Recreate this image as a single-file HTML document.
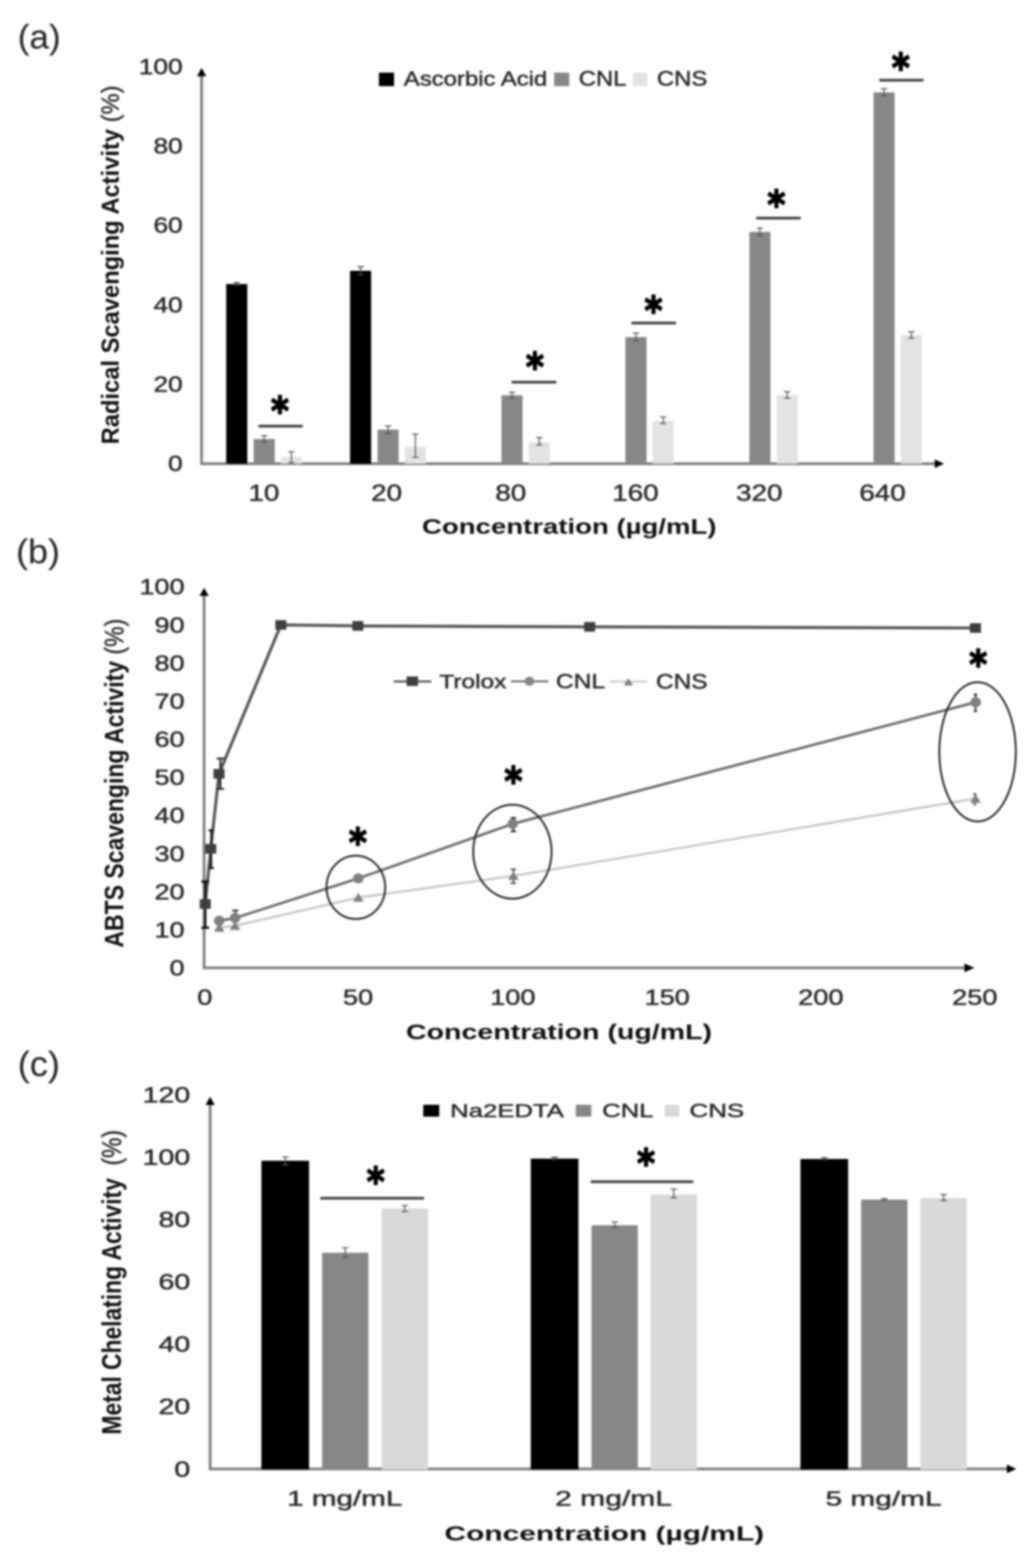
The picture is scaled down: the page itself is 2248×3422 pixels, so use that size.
<!DOCTYPE html>
<html><head><meta charset="utf-8"><title>Antioxidant activity charts</title>
<style>
html,body{margin:0;padding:0;background:#fff;}
svg{display:block;filter:blur(2.0px);}
text{font-family:"Liberation Sans",Arial,sans-serif;white-space:pre;}
</style></head>
<body>
<svg xmlns="http://www.w3.org/2000/svg" width="2248" height="3422" viewBox="0 0 2248 3422">
<rect width="2248" height="3422" fill="#fefefe"/>
<text transform="translate(38.87 106.11) scale(1.0284 1)" font-size="74.42" fill="#2b2b2b" stroke="#2b2b2b" stroke-width="0.30" stroke-linejoin="round">(a)</text>
<line x1="440.00" y1="1014.50" x2="440.00" y2="162.00" stroke="#7e7e7e" stroke-width="6.00" stroke-linecap="butt"/>
<polygon points="440.00,148.00 430.00,166.50 450.00,166.50" fill="#000"/>
<line x1="437.50" y1="1012.00" x2="2044.00" y2="1012.00" stroke="#7e7e7e" stroke-width="6.00" stroke-linecap="butt"/>
<polygon points="2060.50,1012.00 2040.00,1002.50 2040.00,1021.50" fill="#000"/>
<text transform="translate(366.77 1028.13) scale(1.2168 1)" font-size="47.21" fill="#2b2b2b" stroke="#2b2b2b" stroke-width="1.00" stroke-linejoin="round">0</text>
<text transform="translate(334.89 854.89) scale(1.2168 1)" font-size="47.21" fill="#2b2b2b" stroke="#2b2b2b" stroke-width="1.00" stroke-linejoin="round">20</text>
<text transform="translate(334.89 681.65) scale(1.2168 1)" font-size="47.21" fill="#2b2b2b" stroke="#2b2b2b" stroke-width="1.00" stroke-linejoin="round">40</text>
<text transform="translate(334.89 508.41) scale(1.2168 1)" font-size="47.21" fill="#2b2b2b" stroke="#2b2b2b" stroke-width="1.00" stroke-linejoin="round">60</text>
<text transform="translate(334.89 335.17) scale(1.2168 1)" font-size="47.21" fill="#2b2b2b" stroke="#2b2b2b" stroke-width="1.00" stroke-linejoin="round">80</text>
<text transform="translate(302.87 161.93) scale(1.2168 1)" font-size="47.21" fill="#2b2b2b" stroke="#2b2b2b" stroke-width="1.00" stroke-linejoin="round">100</text>
<text transform="translate(542.17 1092.70) scale(1.2168 1)" font-size="49.89" fill="#2b2b2b" stroke="#2b2b2b" stroke-width="1.00" stroke-linejoin="round">10</text>
<text transform="translate(809.93 1092.70) scale(1.2168 1)" font-size="49.89" fill="#2b2b2b" stroke="#2b2b2b" stroke-width="1.00" stroke-linejoin="round">20</text>
<text transform="translate(1080.95 1092.70) scale(1.2168 1)" font-size="49.89" fill="#2b2b2b" stroke="#2b2b2b" stroke-width="1.00" stroke-linejoin="round">80</text>
<text transform="translate(1336.24 1092.70) scale(1.2168 1)" font-size="49.89" fill="#2b2b2b" stroke="#2b2b2b" stroke-width="1.00" stroke-linejoin="round">160</text>
<text transform="translate(1606.38 1092.70) scale(1.2168 1)" font-size="49.89" fill="#2b2b2b" stroke="#2b2b2b" stroke-width="1.00" stroke-linejoin="round">320</text>
<text transform="translate(1875.60 1092.70) scale(1.2168 1)" font-size="49.89" fill="#2b2b2b" stroke="#2b2b2b" stroke-width="1.00" stroke-linejoin="round">640</text>
<rect x="493.70" y="620.00" width="46.00" height="392.00" fill="#000"/>
<rect x="553.70" y="958.00" width="46.00" height="54.00" fill="#878787"/>
<rect x="613.20" y="997.00" width="46.00" height="15.00" fill="#e3e3e3"/>
<rect x="764.00" y="591.00" width="46.00" height="421.00" fill="#000"/>
<rect x="824.00" y="937.60" width="46.00" height="74.40" fill="#878787"/>
<rect x="883.50" y="975.00" width="46.00" height="37.00" fill="#e3e3e3"/>
<rect x="1094.50" y="862.60" width="46.00" height="149.40" fill="#878787"/>
<rect x="1154.00" y="965.00" width="46.00" height="47.00" fill="#e3e3e3"/>
<rect x="1365.00" y="735.60" width="46.00" height="276.40" fill="#878787"/>
<rect x="1424.50" y="918.60" width="46.00" height="93.40" fill="#e3e3e3"/>
<rect x="1635.50" y="506.20" width="46.00" height="505.80" fill="#878787"/>
<rect x="1695.00" y="862.30" width="46.00" height="149.70" fill="#e3e3e3"/>
<rect x="1906.50" y="201.60" width="46.00" height="810.40" fill="#878787"/>
<rect x="1966.00" y="731.40" width="46.00" height="280.60" fill="#e3e3e3"/>
<line x1="516.70" y1="617.00" x2="516.70" y2="622.00" stroke="#333" stroke-width="2.50" stroke-linecap="butt"/>
<line x1="509.70" y1="617.00" x2="523.70" y2="617.00" stroke="#333" stroke-width="2.50" stroke-linecap="butt"/>
<line x1="509.70" y1="622.00" x2="523.70" y2="622.00" stroke="#333" stroke-width="2.50" stroke-linecap="butt"/>
<line x1="576.70" y1="951.00" x2="576.70" y2="965.00" stroke="#555" stroke-width="2.50" stroke-linecap="butt"/>
<line x1="569.70" y1="951.00" x2="583.70" y2="951.00" stroke="#555" stroke-width="2.50" stroke-linecap="butt"/>
<line x1="569.70" y1="965.00" x2="583.70" y2="965.00" stroke="#555" stroke-width="2.50" stroke-linecap="butt"/>
<line x1="636.00" y1="986.00" x2="636.00" y2="1010.00" stroke="#555" stroke-width="2.50" stroke-linecap="butt"/>
<line x1="629.00" y1="986.00" x2="643.00" y2="986.00" stroke="#555" stroke-width="2.50" stroke-linecap="butt"/>
<line x1="629.00" y1="1010.00" x2="643.00" y2="1010.00" stroke="#555" stroke-width="2.50" stroke-linecap="butt"/>
<line x1="787.00" y1="582.00" x2="787.00" y2="600.00" stroke="#444" stroke-width="2.50" stroke-linecap="butt"/>
<line x1="780.00" y1="582.00" x2="794.00" y2="582.00" stroke="#444" stroke-width="2.50" stroke-linecap="butt"/>
<line x1="780.00" y1="600.00" x2="794.00" y2="600.00" stroke="#444" stroke-width="2.50" stroke-linecap="butt"/>
<line x1="847.00" y1="929.50" x2="847.00" y2="946.00" stroke="#555" stroke-width="2.50" stroke-linecap="butt"/>
<line x1="840.00" y1="929.50" x2="854.00" y2="929.50" stroke="#555" stroke-width="2.50" stroke-linecap="butt"/>
<line x1="840.00" y1="946.00" x2="854.00" y2="946.00" stroke="#555" stroke-width="2.50" stroke-linecap="butt"/>
<line x1="906.50" y1="947.50" x2="906.50" y2="998.00" stroke="#555" stroke-width="2.50" stroke-linecap="butt"/>
<line x1="899.50" y1="947.50" x2="913.50" y2="947.50" stroke="#555" stroke-width="2.50" stroke-linecap="butt"/>
<line x1="899.50" y1="998.00" x2="913.50" y2="998.00" stroke="#555" stroke-width="2.50" stroke-linecap="butt"/>
<line x1="1117.50" y1="856.00" x2="1117.50" y2="869.00" stroke="#555" stroke-width="2.50" stroke-linecap="butt"/>
<line x1="1110.50" y1="856.00" x2="1124.50" y2="856.00" stroke="#555" stroke-width="2.50" stroke-linecap="butt"/>
<line x1="1110.50" y1="869.00" x2="1124.50" y2="869.00" stroke="#555" stroke-width="2.50" stroke-linecap="butt"/>
<line x1="1177.00" y1="955.00" x2="1177.00" y2="971.00" stroke="#555" stroke-width="2.50" stroke-linecap="butt"/>
<line x1="1170.00" y1="955.00" x2="1184.00" y2="955.00" stroke="#555" stroke-width="2.50" stroke-linecap="butt"/>
<line x1="1170.00" y1="971.00" x2="1184.00" y2="971.00" stroke="#555" stroke-width="2.50" stroke-linecap="butt"/>
<line x1="1388.00" y1="727.00" x2="1388.00" y2="744.00" stroke="#555" stroke-width="2.50" stroke-linecap="butt"/>
<line x1="1381.00" y1="727.00" x2="1395.00" y2="727.00" stroke="#555" stroke-width="2.50" stroke-linecap="butt"/>
<line x1="1381.00" y1="744.00" x2="1395.00" y2="744.00" stroke="#555" stroke-width="2.50" stroke-linecap="butt"/>
<line x1="1447.50" y1="910.00" x2="1447.50" y2="924.00" stroke="#555" stroke-width="2.50" stroke-linecap="butt"/>
<line x1="1440.50" y1="910.00" x2="1454.50" y2="910.00" stroke="#555" stroke-width="2.50" stroke-linecap="butt"/>
<line x1="1440.50" y1="924.00" x2="1454.50" y2="924.00" stroke="#555" stroke-width="2.50" stroke-linecap="butt"/>
<line x1="1658.50" y1="498.00" x2="1658.50" y2="514.00" stroke="#555" stroke-width="2.50" stroke-linecap="butt"/>
<line x1="1651.50" y1="498.00" x2="1665.50" y2="498.00" stroke="#555" stroke-width="2.50" stroke-linecap="butt"/>
<line x1="1651.50" y1="514.00" x2="1665.50" y2="514.00" stroke="#555" stroke-width="2.50" stroke-linecap="butt"/>
<line x1="1718.00" y1="855.00" x2="1718.00" y2="869.00" stroke="#555" stroke-width="2.50" stroke-linecap="butt"/>
<line x1="1711.00" y1="855.00" x2="1725.00" y2="855.00" stroke="#555" stroke-width="2.50" stroke-linecap="butt"/>
<line x1="1711.00" y1="869.00" x2="1725.00" y2="869.00" stroke="#555" stroke-width="2.50" stroke-linecap="butt"/>
<line x1="1929.50" y1="193.50" x2="1929.50" y2="209.00" stroke="#555" stroke-width="2.50" stroke-linecap="butt"/>
<line x1="1922.50" y1="193.50" x2="1936.50" y2="193.50" stroke="#555" stroke-width="2.50" stroke-linecap="butt"/>
<line x1="1922.50" y1="209.00" x2="1936.50" y2="209.00" stroke="#555" stroke-width="2.50" stroke-linecap="butt"/>
<line x1="1989.00" y1="724.00" x2="1989.00" y2="738.00" stroke="#555" stroke-width="2.50" stroke-linecap="butt"/>
<line x1="1982.00" y1="724.00" x2="1996.00" y2="724.00" stroke="#555" stroke-width="2.50" stroke-linecap="butt"/>
<line x1="1982.00" y1="738.00" x2="1996.00" y2="738.00" stroke="#555" stroke-width="2.50" stroke-linecap="butt"/>
<line x1="566.60" y1="930.00" x2="658.00" y2="930.00" stroke="#454545" stroke-width="6.00" stroke-linecap="round"/>
<text transform="translate(611.00 927.24) scale(0.89 1)" style="font-family:'DejaVu Sans',sans-serif" font-weight="bold" font-size="84.78" text-anchor="middle" stroke="#000" stroke-width="3.16" stroke-linejoin="round">*</text>
<line x1="1119.00" y1="834.00" x2="1211.80" y2="834.00" stroke="#454545" stroke-width="6.00" stroke-linecap="round"/>
<text transform="translate(1167.40 831.24) scale(0.89 1)" style="font-family:'DejaVu Sans',sans-serif" font-weight="bold" font-size="84.78" text-anchor="middle" stroke="#000" stroke-width="3.16" stroke-linejoin="round">*</text>
<line x1="1380.60" y1="705.00" x2="1473.00" y2="705.00" stroke="#454545" stroke-width="6.00" stroke-linecap="round"/>
<text transform="translate(1426.30 708.24) scale(0.89 1)" style="font-family:'DejaVu Sans',sans-serif" font-weight="bold" font-size="84.78" text-anchor="middle" stroke="#000" stroke-width="3.16" stroke-linejoin="round">*</text>
<line x1="1653.00" y1="476.00" x2="1745.00" y2="476.00" stroke="#454545" stroke-width="6.00" stroke-linecap="round"/>
<text transform="translate(1694.40 476.54) scale(0.89 1)" style="font-family:'DejaVu Sans',sans-serif" font-weight="bold" font-size="84.78" text-anchor="middle" stroke="#000" stroke-width="3.16" stroke-linejoin="round">*</text>
<line x1="1921.50" y1="175.00" x2="2013.00" y2="175.00" stroke="#454545" stroke-width="6.00" stroke-linecap="round"/>
<text transform="translate(1966.00 178.24) scale(0.89 1)" style="font-family:'DejaVu Sans',sans-serif" font-weight="bold" font-size="84.78" text-anchor="middle" stroke="#000" stroke-width="3.16" stroke-linejoin="round">*</text>
<rect x="827.00" y="158.50" width="33.00" height="29.50" fill="#000"/>
<text transform="translate(881.37 187.26) scale(1.1833 1)" font-size="44.08" fill="#2b2b2b" stroke="#2b2b2b" stroke-width="1.00" stroke-linejoin="round">Ascorbic Acid</text>
<rect x="1209.50" y="158.50" width="32.80" height="29.50" fill="#878787"/>
<text transform="translate(1263.31 187.34) scale(1.1262 1)" font-size="46.08" fill="#2b2b2b" stroke="#2b2b2b" stroke-width="1.00" stroke-linejoin="round">CNL</text>
<rect x="1381.70" y="158.50" width="31.30" height="29.50" fill="#e3e3e3"/>
<text transform="translate(1433.69 186.84) scale(1.1309 1)" font-size="46.08" fill="#2b2b2b" stroke="#2b2b2b" stroke-width="1.00" stroke-linejoin="round">CNS</text>
<text transform="translate(921.09 1164.83) scale(1.2817 1)" font-size="46.93" font-weight="bold" fill="#111">Concentration (µg/mL)</text>
<text transform="translate(259.41 969.69) rotate(-90) scale(1 1.0265)" font-size="51.75"><tspan font-weight="bold" fill="#111">Radical Scavenging Activity </tspan><tspan font-weight="normal" fill="#2b2b2b" stroke="#2b2b2b" stroke-width="0.80" stroke-linejoin="round">(%)</tspan></text>
<text transform="translate(34.94 1228.72) scale(1.0505 1)" font-size="74.85" fill="#2b2b2b" stroke="#2b2b2b" stroke-width="0.30" stroke-linejoin="round">(b)</text>
<line x1="445.40" y1="2114.80" x2="445.40" y2="1296.00" stroke="#7e7e7e" stroke-width="6.00" stroke-linecap="butt"/>
<polygon points="445.40,1283.00 435.40,1300.50 455.40,1300.50" fill="#000"/>
<line x1="442.90" y1="2112.30" x2="2109.00" y2="2112.30" stroke="#7e7e7e" stroke-width="6.00" stroke-linecap="butt"/>
<polygon points="2126.50,2112.30 2105.00,2102.80 2105.00,2121.80" fill="#000"/>
<text transform="translate(369.91 2129.22) scale(1.2189 1)" font-size="48.34" fill="#2b2b2b" stroke="#2b2b2b" stroke-width="1.00" stroke-linejoin="round">0</text>
<text transform="translate(337.21 2046.03) scale(1.2189 1)" font-size="48.34" fill="#2b2b2b" stroke="#2b2b2b" stroke-width="1.00" stroke-linejoin="round">10</text>
<text transform="translate(337.21 1962.84) scale(1.2189 1)" font-size="48.34" fill="#2b2b2b" stroke="#2b2b2b" stroke-width="1.00" stroke-linejoin="round">20</text>
<text transform="translate(337.21 1879.65) scale(1.2189 1)" font-size="48.34" fill="#2b2b2b" stroke="#2b2b2b" stroke-width="1.00" stroke-linejoin="round">30</text>
<text transform="translate(337.21 1796.46) scale(1.2189 1)" font-size="48.34" fill="#2b2b2b" stroke="#2b2b2b" stroke-width="1.00" stroke-linejoin="round">40</text>
<text transform="translate(337.21 1713.27) scale(1.2189 1)" font-size="48.34" fill="#2b2b2b" stroke="#2b2b2b" stroke-width="1.00" stroke-linejoin="round">50</text>
<text transform="translate(337.21 1630.08) scale(1.2189 1)" font-size="48.34" fill="#2b2b2b" stroke="#2b2b2b" stroke-width="1.00" stroke-linejoin="round">60</text>
<text transform="translate(337.21 1546.89) scale(1.2189 1)" font-size="48.34" fill="#2b2b2b" stroke="#2b2b2b" stroke-width="1.00" stroke-linejoin="round">70</text>
<text transform="translate(337.21 1463.70) scale(1.2189 1)" font-size="48.34" fill="#2b2b2b" stroke="#2b2b2b" stroke-width="1.00" stroke-linejoin="round">80</text>
<text transform="translate(337.21 1380.51) scale(1.2189 1)" font-size="48.34" fill="#2b2b2b" stroke="#2b2b2b" stroke-width="1.00" stroke-linejoin="round">90</text>
<text transform="translate(304.36 1297.32) scale(1.2189 1)" font-size="48.34" fill="#2b2b2b" stroke="#2b2b2b" stroke-width="1.00" stroke-linejoin="round">100</text>
<text transform="translate(430.38 2193.01) scale(1.2189 1)" font-size="48.62" fill="#2b2b2b" stroke="#2b2b2b" stroke-width="1.00" stroke-linejoin="round">0</text>
<text transform="translate(748.43 2193.01) scale(1.2189 1)" font-size="48.62" fill="#2b2b2b" stroke="#2b2b2b" stroke-width="1.00" stroke-linejoin="round">50</text>
<text transform="translate(1069.78 2193.01) scale(1.2189 1)" font-size="48.62" fill="#2b2b2b" stroke="#2b2b2b" stroke-width="1.00" stroke-linejoin="round">100</text>
<text transform="translate(1406.68 2193.01) scale(1.2189 1)" font-size="48.62" fill="#2b2b2b" stroke="#2b2b2b" stroke-width="1.00" stroke-linejoin="round">150</text>
<text transform="translate(1742.02 2193.01) scale(1.2189 1)" font-size="48.62" fill="#2b2b2b" stroke="#2b2b2b" stroke-width="1.00" stroke-linejoin="round">200</text>
<text transform="translate(2078.12 2193.01) scale(1.2189 1)" font-size="48.62" fill="#2b2b2b" stroke="#2b2b2b" stroke-width="1.00" stroke-linejoin="round">250</text>
<polyline points="478.5,2024.5 513.0,2020.5 782.0,1959.0 1120.5,1911.5 2129.0,1743.0" fill="none" stroke="#c8c8c8" stroke-width="5" stroke-linejoin="round"/>
<polyline points="478.5,2009.5 513.0,2003.5 782.0,1917.0 1119.0,1798.0 2129.5,1532.5" fill="none" stroke="#686868" stroke-width="5.5" stroke-linejoin="round"/>
<polyline points="448.0,1972.8 460.0,1852.4 478.0,1688.7 613.0,1363.8 781.0,1366.0 1287.0,1368.0 2129.0,1370.6" fill="none" stroke="#555555" stroke-width="6.5" stroke-linejoin="round"/>
<line x1="448.00" y1="1924.00" x2="448.00" y2="2024.60" stroke="#111" stroke-width="5.00" stroke-linecap="butt"/>
<line x1="439.50" y1="1924.00" x2="456.50" y2="1924.00" stroke="#111" stroke-width="5.00" stroke-linecap="butt"/>
<line x1="439.50" y1="2024.60" x2="456.50" y2="2024.60" stroke="#111" stroke-width="5.00" stroke-linecap="butt"/>
<line x1="461.00" y1="1812.00" x2="461.00" y2="1894.60" stroke="#111" stroke-width="4.00" stroke-linecap="butt"/>
<line x1="455.00" y1="1812.00" x2="467.00" y2="1812.00" stroke="#111" stroke-width="4.00" stroke-linecap="butt"/>
<line x1="455.00" y1="1894.60" x2="467.00" y2="1894.60" stroke="#111" stroke-width="4.00" stroke-linecap="butt"/>
<line x1="481.00" y1="1655.40" x2="481.00" y2="1721.60" stroke="#222" stroke-width="4.00" stroke-linecap="butt"/>
<line x1="473.00" y1="1655.40" x2="489.00" y2="1655.40" stroke="#222" stroke-width="4.00" stroke-linecap="butt"/>
<line x1="473.00" y1="1721.60" x2="489.00" y2="1721.60" stroke="#222" stroke-width="4.00" stroke-linecap="butt"/>
<line x1="513.60" y1="1987.00" x2="513.60" y2="2008.00" stroke="#333" stroke-width="3.50" stroke-linecap="butt"/>
<line x1="506.60" y1="1987.00" x2="520.60" y2="1987.00" stroke="#333" stroke-width="3.50" stroke-linecap="butt"/>
<line x1="506.60" y1="2008.00" x2="520.60" y2="2008.00" stroke="#333" stroke-width="3.50" stroke-linecap="butt"/>
<line x1="1120.50" y1="1785.00" x2="1120.50" y2="1814.50" stroke="#222" stroke-width="3.50" stroke-linecap="butt"/>
<line x1="1114.50" y1="1785.00" x2="1126.50" y2="1785.00" stroke="#222" stroke-width="3.50" stroke-linecap="butt"/>
<line x1="1114.50" y1="1814.50" x2="1126.50" y2="1814.50" stroke="#222" stroke-width="3.50" stroke-linecap="butt"/>
<line x1="1120.50" y1="1897.00" x2="1120.50" y2="1927.50" stroke="#555" stroke-width="3.50" stroke-linecap="butt"/>
<line x1="1114.50" y1="1897.00" x2="1126.50" y2="1897.00" stroke="#555" stroke-width="3.50" stroke-linecap="butt"/>
<line x1="1114.50" y1="1927.50" x2="1126.50" y2="1927.50" stroke="#555" stroke-width="3.50" stroke-linecap="butt"/>
<line x1="2129.00" y1="1515.50" x2="2129.00" y2="1552.00" stroke="#333" stroke-width="3.50" stroke-linecap="butt"/>
<line x1="2125.00" y1="1515.50" x2="2133.00" y2="1515.50" stroke="#333" stroke-width="3.50" stroke-linecap="butt"/>
<line x1="2125.00" y1="1552.00" x2="2133.00" y2="1552.00" stroke="#333" stroke-width="3.50" stroke-linecap="butt"/>
<line x1="2127.50" y1="1732.50" x2="2127.50" y2="1755.50" stroke="#555" stroke-width="3.00" stroke-linecap="butt"/>
<line x1="2124.00" y1="1732.50" x2="2131.00" y2="1732.50" stroke="#555" stroke-width="3.00" stroke-linecap="butt"/>
<line x1="2124.00" y1="1755.50" x2="2131.00" y2="1755.50" stroke="#555" stroke-width="3.00" stroke-linecap="butt"/>
<rect x="436.00" y="1962.30" width="24.00" height="21.00" fill="#3f3f3f"/>
<rect x="448.00" y="1841.90" width="24.00" height="21.00" fill="#3f3f3f"/>
<rect x="466.00" y="1678.20" width="24.00" height="21.00" fill="#3f3f3f"/>
<rect x="601.00" y="1353.30" width="24.00" height="21.00" fill="#3f3f3f"/>
<rect x="769.00" y="1355.50" width="24.00" height="21.00" fill="#3f3f3f"/>
<rect x="1275.00" y="1357.50" width="24.00" height="21.00" fill="#3f3f3f"/>
<rect x="2117.00" y="1360.10" width="24.00" height="21.00" fill="#3f3f3f"/>
<polygon points="478.50,2014.00 467.00,2033.50 490.00,2033.50" fill="#7f7f7f"/>
<polygon points="513.00,2010.00 501.50,2029.50 524.50,2029.50" fill="#7f7f7f"/>
<polygon points="782.00,1948.50 770.50,1968.00 793.50,1968.00" fill="#7f7f7f"/>
<polygon points="1120.50,1901.00 1109.00,1920.50 1132.00,1920.50" fill="#7f7f7f"/>
<polygon points="2129.00,1732.50 2117.50,1752.00 2140.50,1752.00" fill="#7f7f7f"/>
<ellipse cx="478.5" cy="2009.5" rx="11.5" ry="11" fill="#7f7f7f"/>
<ellipse cx="513.0" cy="2003.5" rx="11.5" ry="11" fill="#7f7f7f"/>
<ellipse cx="782.0" cy="1917.0" rx="11.5" ry="11" fill="#7f7f7f"/>
<ellipse cx="1119.0" cy="1798.0" rx="11.5" ry="11" fill="#7f7f7f"/>
<ellipse cx="2129.5" cy="1532.5" rx="11.5" ry="11" fill="#7f7f7f"/>
<ellipse cx="776.7" cy="1936.5" rx="64.0" ry="69.0" fill="none" stroke="#222" stroke-width="4"/>
<ellipse cx="1118.3" cy="1858.8" rx="85.5" ry="102.5" fill="none" stroke="#222" stroke-width="4"/>
<ellipse cx="2133.6" cy="1640.8" rx="83.5" ry="152.0" fill="none" stroke="#222" stroke-width="4"/>
<text transform="translate(781.00 1869.24) scale(0.89 1)" style="font-family:'DejaVu Sans',sans-serif" font-weight="bold" font-size="84.78" text-anchor="middle" stroke="#000" stroke-width="3.16" stroke-linejoin="round">*</text>
<text transform="translate(1120.50 1734.74) scale(0.89 1)" style="font-family:'DejaVu Sans',sans-serif" font-weight="bold" font-size="84.78" text-anchor="middle" stroke="#000" stroke-width="3.16" stroke-linejoin="round">*</text>
<text transform="translate(2135.00 1480.24) scale(0.89 1)" style="font-family:'DejaVu Sans',sans-serif" font-weight="bold" font-size="84.78" text-anchor="middle" stroke="#000" stroke-width="3.16" stroke-linejoin="round">*</text>
<line x1="859.20" y1="1487.20" x2="941.10" y2="1487.20" stroke="#555555" stroke-width="4.50" stroke-linecap="butt"/>
<rect x="887.30" y="1476.40" width="25.20" height="20.60" fill="#3f3f3f"/>
<text transform="translate(958.80 1502.27) scale(1.2305 1)" font-size="43.40" fill="#2b2b2b" stroke="#2b2b2b" stroke-width="1.00" stroke-linejoin="round">Trolox</text>
<line x1="1115.20" y1="1487.00" x2="1197.20" y2="1487.00" stroke="#686868" stroke-width="4.00" stroke-linecap="butt"/>
<ellipse cx="1155.5" cy="1486.8" rx="10.5" ry="10" fill="#858585"/>
<text transform="translate(1213.31 1501.56) scale(1.2259 1)" font-size="43.82" fill="#2b2b2b" stroke="#2b2b2b" stroke-width="1.00" stroke-linejoin="round">CNL</text>
<line x1="1330.70" y1="1487.50" x2="1411.60" y2="1487.50" stroke="#c8c8c8" stroke-width="4.00" stroke-linecap="butt"/>
<polygon points="1371.40,1480.00 1361.50,1496.00 1381.50,1496.00" fill="#828282"/>
<text transform="translate(1431.84 1503.04) scale(1.1546 1)" font-size="46.08" fill="#2b2b2b" stroke="#2b2b2b" stroke-width="1.00" stroke-linejoin="round">CNS</text>
<text transform="translate(886.01 2268.33) scale(1.3279 1)" font-size="46.93" font-weight="bold" fill="#111">Concentration (ug/mL)</text>
<text transform="translate(268.56 2067.95) rotate(-90) scale(1 1.1284)" font-size="50.20"><tspan font-weight="bold" fill="#111">ABTS Scavenging Activity </tspan><tspan font-weight="normal" fill="#2b2b2b" stroke="#2b2b2b" stroke-width="0.80" stroke-linejoin="round">(%)</tspan></text>
<text transform="translate(38.72 2348.14) scale(1.0427 1)" font-size="75.71" fill="#2b2b2b" stroke="#2b2b2b" stroke-width="0.30" stroke-linejoin="round">(c)</text>
<line x1="458.60" y1="3208.20" x2="458.60" y2="2408.00" stroke="#7e7e7e" stroke-width="6.00" stroke-linecap="butt"/>
<polygon points="458.60,2393.50 448.60,2411.50 468.60,2411.50" fill="#000"/>
<line x1="456.10" y1="3205.70" x2="2200.00" y2="3205.70" stroke="#7e7e7e" stroke-width="6.00" stroke-linecap="butt"/>
<polygon points="2218.00,3205.70 2197.50,3196.20 2197.50,3215.20" fill="#000"/>
<text transform="translate(380.48 3222.53) scale(1.3187 1)" font-size="47.21" fill="#2b2b2b" stroke="#2b2b2b" stroke-width="1.00" stroke-linejoin="round">0</text>
<text transform="translate(345.93 3086.46) scale(1.3187 1)" font-size="47.21" fill="#2b2b2b" stroke="#2b2b2b" stroke-width="1.00" stroke-linejoin="round">20</text>
<text transform="translate(345.93 2950.39) scale(1.3187 1)" font-size="47.21" fill="#2b2b2b" stroke="#2b2b2b" stroke-width="1.00" stroke-linejoin="round">40</text>
<text transform="translate(345.93 2814.32) scale(1.3187 1)" font-size="47.21" fill="#2b2b2b" stroke="#2b2b2b" stroke-width="1.00" stroke-linejoin="round">60</text>
<text transform="translate(345.93 2678.25) scale(1.3187 1)" font-size="47.21" fill="#2b2b2b" stroke="#2b2b2b" stroke-width="1.00" stroke-linejoin="round">80</text>
<text transform="translate(311.23 2542.18) scale(1.3187 1)" font-size="47.21" fill="#2b2b2b" stroke="#2b2b2b" stroke-width="1.00" stroke-linejoin="round">100</text>
<text transform="translate(311.23 2406.11) scale(1.3187 1)" font-size="47.21" fill="#2b2b2b" stroke="#2b2b2b" stroke-width="1.00" stroke-linejoin="round">120</text>
<rect x="570.50" y="2533.20" width="104.00" height="673.80" fill="#000"/>
<rect x="703.00" y="2734.00" width="101.00" height="473.00" fill="#878787"/>
<rect x="833.00" y="2637.40" width="101.00" height="569.60" fill="#d9d9d9"/>
<rect x="1158.40" y="2528.60" width="104.00" height="678.40" fill="#000"/>
<rect x="1291.00" y="2674.00" width="101.00" height="533.00" fill="#878787"/>
<rect x="1420.00" y="2606.70" width="101.00" height="600.30" fill="#d9d9d9"/>
<rect x="1747.00" y="2529.40" width="104.00" height="677.60" fill="#000"/>
<rect x="1879.50" y="2618.00" width="101.00" height="589.00" fill="#878787"/>
<rect x="2009.00" y="2614.50" width="101.00" height="592.50" fill="#d9d9d9"/>
<line x1="623.00" y1="2525.00" x2="623.00" y2="2542.00" stroke="#555" stroke-width="2.50" stroke-linecap="butt"/>
<line x1="616.00" y1="2525.00" x2="630.00" y2="2525.00" stroke="#555" stroke-width="2.50" stroke-linecap="butt"/>
<line x1="616.00" y1="2542.00" x2="630.00" y2="2542.00" stroke="#555" stroke-width="2.50" stroke-linecap="butt"/>
<line x1="753.50" y1="2723.00" x2="753.50" y2="2745.00" stroke="#555" stroke-width="2.50" stroke-linecap="butt"/>
<line x1="746.50" y1="2723.00" x2="760.50" y2="2723.00" stroke="#555" stroke-width="2.50" stroke-linecap="butt"/>
<line x1="746.50" y1="2745.00" x2="760.50" y2="2745.00" stroke="#555" stroke-width="2.50" stroke-linecap="butt"/>
<line x1="883.50" y1="2631.00" x2="883.50" y2="2644.00" stroke="#555" stroke-width="2.50" stroke-linecap="butt"/>
<line x1="876.50" y1="2631.00" x2="890.50" y2="2631.00" stroke="#555" stroke-width="2.50" stroke-linecap="butt"/>
<line x1="876.50" y1="2644.00" x2="890.50" y2="2644.00" stroke="#555" stroke-width="2.50" stroke-linecap="butt"/>
<line x1="1210.50" y1="2526.00" x2="1210.50" y2="2531.00" stroke="#333" stroke-width="2.50" stroke-linecap="butt"/>
<line x1="1203.50" y1="2526.00" x2="1217.50" y2="2526.00" stroke="#333" stroke-width="2.50" stroke-linecap="butt"/>
<line x1="1203.50" y1="2531.00" x2="1217.50" y2="2531.00" stroke="#333" stroke-width="2.50" stroke-linecap="butt"/>
<line x1="1341.50" y1="2667.00" x2="1341.50" y2="2679.00" stroke="#555" stroke-width="2.50" stroke-linecap="butt"/>
<line x1="1334.50" y1="2667.00" x2="1348.50" y2="2667.00" stroke="#555" stroke-width="2.50" stroke-linecap="butt"/>
<line x1="1334.50" y1="2679.00" x2="1348.50" y2="2679.00" stroke="#555" stroke-width="2.50" stroke-linecap="butt"/>
<line x1="1470.50" y1="2595.00" x2="1470.50" y2="2614.00" stroke="#555" stroke-width="2.50" stroke-linecap="butt"/>
<line x1="1463.50" y1="2595.00" x2="1477.50" y2="2595.00" stroke="#555" stroke-width="2.50" stroke-linecap="butt"/>
<line x1="1463.50" y1="2614.00" x2="1477.50" y2="2614.00" stroke="#555" stroke-width="2.50" stroke-linecap="butt"/>
<line x1="1799.00" y1="2527.00" x2="1799.00" y2="2531.00" stroke="#333" stroke-width="2.50" stroke-linecap="butt"/>
<line x1="1792.00" y1="2527.00" x2="1806.00" y2="2527.00" stroke="#333" stroke-width="2.50" stroke-linecap="butt"/>
<line x1="1792.00" y1="2531.00" x2="1806.00" y2="2531.00" stroke="#333" stroke-width="2.50" stroke-linecap="butt"/>
<line x1="1930.00" y1="2616.00" x2="1930.00" y2="2620.00" stroke="#555" stroke-width="2.50" stroke-linecap="butt"/>
<line x1="1923.00" y1="2616.00" x2="1937.00" y2="2616.00" stroke="#555" stroke-width="2.50" stroke-linecap="butt"/>
<line x1="1923.00" y1="2620.00" x2="1937.00" y2="2620.00" stroke="#555" stroke-width="2.50" stroke-linecap="butt"/>
<line x1="2059.50" y1="2607.00" x2="2059.50" y2="2620.00" stroke="#555" stroke-width="2.50" stroke-linecap="butt"/>
<line x1="2052.50" y1="2607.00" x2="2066.50" y2="2607.00" stroke="#555" stroke-width="2.50" stroke-linecap="butt"/>
<line x1="2052.50" y1="2620.00" x2="2066.50" y2="2620.00" stroke="#555" stroke-width="2.50" stroke-linecap="butt"/>
<line x1="701.70" y1="2615.00" x2="923.00" y2="2615.00" stroke="#454545" stroke-width="6.00" stroke-linecap="round"/>
<text transform="translate(820.00 2608.94) scale(0.89 1)" style="font-family:'DejaVu Sans',sans-serif" font-weight="bold" font-size="84.78" text-anchor="middle" stroke="#000" stroke-width="3.16" stroke-linejoin="round">*</text>
<line x1="1291.70" y1="2579.00" x2="1510.40" y2="2579.00" stroke="#454545" stroke-width="6.00" stroke-linecap="round"/>
<text transform="translate(1410.00 2569.24) scale(0.89 1)" style="font-family:'DejaVu Sans',sans-serif" font-weight="bold" font-size="84.78" text-anchor="middle" stroke="#000" stroke-width="3.16" stroke-linejoin="round">*</text>
<rect x="923.80" y="2411.00" width="34.90" height="26.00" fill="#000"/>
<text transform="translate(982.57 2437.59) scale(1.3586 1)" font-size="41.27" fill="#2b2b2b" stroke="#2b2b2b" stroke-width="1.00" stroke-linejoin="round">Na2EDTA</text>
<rect x="1256.70" y="2411.00" width="33.90" height="26.00" fill="#878787"/>
<text transform="translate(1314.30 2438.08) scale(1.3197 1)" font-size="42.40" fill="#2b2b2b" stroke="#2b2b2b" stroke-width="1.00" stroke-linejoin="round">CNL</text>
<rect x="1451.10" y="2411.00" width="31.40" height="26.00" fill="#d9d9d9"/>
<text transform="translate(1504.87 2438.07) scale(1.3210 1)" font-size="42.83" fill="#2b2b2b" stroke="#2b2b2b" stroke-width="1.00" stroke-linejoin="round">CNS</text>
<text transform="translate(626.44 3286.20) scale(1.4096 1)" font-size="45.93" fill="#2b2b2b" stroke="#2b2b2b" stroke-width="1.00" stroke-linejoin="round">1 mg/mL</text>
<text transform="translate(1211.62 3285.70) scale(1.4321 1)" font-size="45.79" fill="#2b2b2b" stroke="#2b2b2b" stroke-width="1.00" stroke-linejoin="round">2 mg/mL</text>
<text transform="translate(1801.80 3285.70) scale(1.4651 1)" font-size="44.41" fill="#2b2b2b" stroke="#2b2b2b" stroke-width="1.00" stroke-linejoin="round">5 mg/mL</text>
<text transform="translate(970.09 3362.34) scale(1.4823 1)" font-size="44.05" font-weight="bold" fill="#111">Concentration (µg/mL)</text>
<text transform="translate(263.90 3130.76) rotate(-90) scale(1 1.1718)" font-size="49.79"><tspan font-weight="bold" fill="#111">Metal Chelating Activity  </tspan><tspan font-weight="normal" fill="#2b2b2b" stroke="#2b2b2b" stroke-width="0.80" stroke-linejoin="round">(%)</tspan></text>
</svg>
</body></html>
